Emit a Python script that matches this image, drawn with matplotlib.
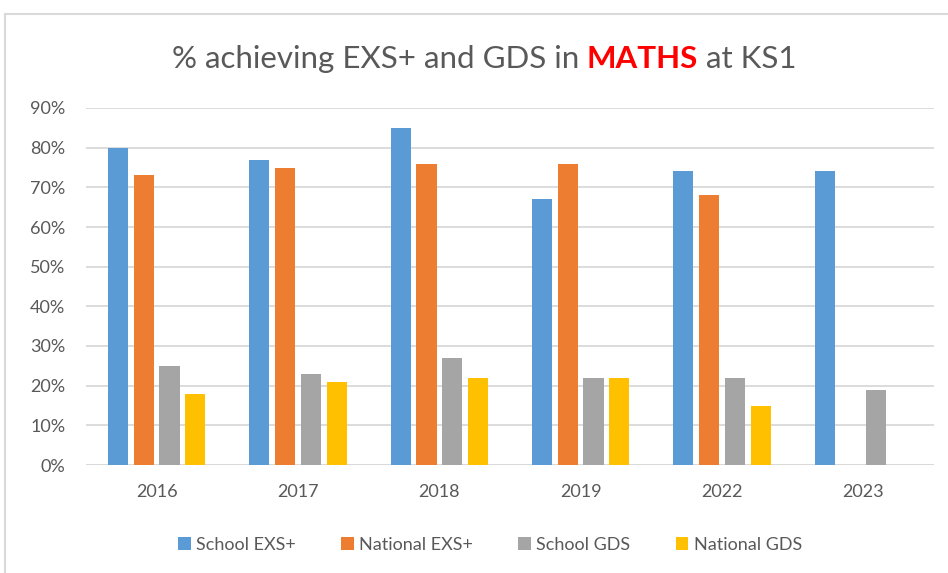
import numpy as np
import matplotlib
matplotlib.use('Agg')
import matplotlib.pyplot as plt
from matplotlib.lines import Line2D
from matplotlib.patches import Patch

# Data (percent); None = no bar
years = ['2016', '2017', '2018', '2019', '2022', '2023']
school_exs = [80, 77, 85, 67, 74, 74]
national_exs = [73, 75, 76, 76, 68, None]
school_gds = [25, 23, 27, 22, 22, 19]
national_gds = [18, 21, 22, 22, 15, None]

series = [('School EXS+', school_exs, '#5b9bd5'),
          ('National EXS+', national_exs, '#ed7d31'),
          ('School GDS', school_gds, '#a5a5a5'),
          ('National GDS', national_gds, '#ffc000')]

W, H = 948, 573
plt.rcParams['font.family'] = ['Lato', 'DejaVu Sans']
fig = plt.figure(figsize=(W / 100, H / 100), dpi=100)

# outer chart border (grey), runs off the right and bottom edge
fig.add_artist(Line2D([5 / W, 5 / W], [0, 1 - 14 / H], color='#d9d9d9', lw=1.5))
fig.add_artist(Line2D([5 / W, 1], [1 - 14 / H, 1 - 14 / H], color='#d9d9d9', lw=1.5))

ax = fig.add_axes([86 / W, 1 - 465 / H, (934 - 86) / W, (465 - 108) / H])

x = np.arange(len(years))
slot = 1 / 5.5  # gap width 150%
for i, (name, vals, col) in enumerate(series):
    xs = [xi + (i - 1.5) * slot for xi, v in zip(x, vals) if v is not None]
    hs = [v for v in vals if v is not None]
    ax.bar(xs, hs, width=slot * 0.78, color=col, edgecolor='none', zorder=3)

ax.set_xlim(-0.5, len(years) - 0.5)
ax.set_ylim(0, 90)
ax.set_yticks(range(0, 91, 10))
ax.set_yticklabels(['%d%%' % v for v in range(0, 91, 10)])
ax.set_xticks(x)
ax.set_xticklabels(years)
ax.tick_params(length=0, labelsize=13, colors='#595959')
ax.tick_params(axis='x', pad=14)
ax.tick_params(axis='y', pad=15)
ax.grid(axis='y', color='#d9d9d9', lw=1.3, zorder=0)
for s in ax.spines.values():
    s.set_visible(False)
ax.axhline(0, color='#d9d9d9', lw=1.3, zorder=2)

# title with the red bold word
parts = [('% achieving EXS+ and GDS in ', '#595959', 'normal'),
         ('MATHS', '#ff0000', 'bold'),
         (' at KS1', '#595959', 'normal')]
renderer = fig.canvas.get_renderer()
texts = []
for s, c, w in parts:
    t = fig.text(0, 1 - 59 / H, s, color=c, fontweight=w, fontsize=22.5,
                 va='center', ha='left')
    texts.append(t)
widths = [t.get_window_extent(renderer).width for t in texts]
xpos = 484 - sum(widths) / 2
for t, wd in zip(texts, widths):
    t.set_x(xpos / W)
    xpos += wd

handles = [Patch(facecolor=c, edgecolor='none') for _, _, c in series]
fig.legend(handles, [n for n, _, _ in series], loc='center',
           bbox_to_anchor=(490 / W, 1 - 545 / H), ncol=4, frameon=False,
           fontsize=13, labelcolor='#595959', handlelength=0.7,
           handleheight=0.7, handletextpad=0.3, columnspacing=2.5)

fig.savefig('out.png', dpi=100)
